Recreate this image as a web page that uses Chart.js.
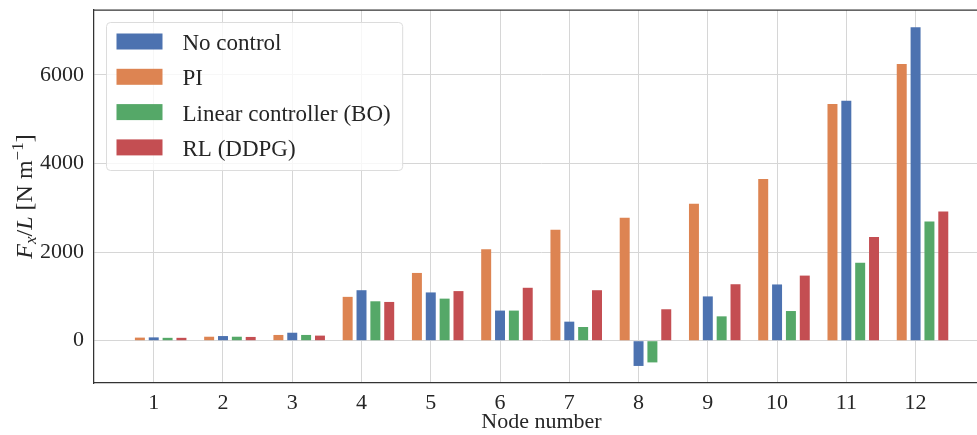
<!DOCTYPE html>
<html>
<head>
<meta charset="utf-8">
<script src="https://cdn.jsdelivr.net/npm/chart.js@4"></script>
<style>
  html, body { margin: 0; padding: 0; background: #fff; overflow: hidden; }
  #wrap { width: 977px; height: 435px; position: relative; overflow: hidden; }
  /* the original figure is cropped a little on the right, so the plot is wider than the window */
  #inner { width: 989px; height: 435px; position: relative; }
</style>
</head>
<body>
<div id="wrap"><div id="inner"><canvas id="chart"></canvas></div></div>
<script>
const nodes = [1, 2, 3, 4, 5, 6, 7, 8, 9, 10, 11, 12]
const noControl = [75, 105, 180, 1140, 1090, 680, 430, -570, 1000, 1270, 5420, 7080]
const pi = [70, 90, 130, 990, 1530, 2065, 2505, 2775, 3095, 3650, 5345, 6250]
const linearBO = [65, 90, 130, 890, 950, 680, 310, -490, 550, 670, 1760, 2690]
const rlDDPG = [65, 85, 115, 875, 1120, 1195, 1140, 710, 1275, 1470, 2340, 2920]
const yTicks = [0, 2000, 4000, 6000]

const serif = '"Liberation Serif", "DejaVu Serif", serif'
const textColor = '#262626'
const gridColor = '#d6d6d6'
const spineColor = '#333333'

// matplotlib puts the 4-bar group off-centre: PI at -0.2, no control on the tick, RL at +0.4
const groupShift = 0.1
const series = values => nodes.map((n, i) => ({ x: n + groupShift, y: values[i] }))

const frameTop = {
  id: 'frameTop',
  afterDatasetsDraw (chart) {
    const { ctx, chartArea: a } = chart
    ctx.save()
    ctx.strokeStyle = spineColor
    ctx.lineWidth = 1.25
    ctx.beginPath()
    ctx.moveTo(a.left, a.top)
    ctx.lineTo(a.right, a.top)
    ctx.stroke()
    ctx.restore()
  }
}

const boxLegend = {
  id: 'boxLegend',
  afterDraw (chart) {
    const { ctx, chartArea: a } = chart
    const datasets = chart.data.datasets
    ctx.save()
    ctx.font = `23px ${serif}`
    const textW = Math.max(...datasets.map(d => ctx.measureText(d.label).width))
    const x = a.left + 12.5
    const y = a.top + 12.5
    const w = 76 + textW + 12
    const h = 148
    ctx.beginPath()
    ctx.roundRect(x, y, w, h, 4)
    ctx.fillStyle = 'rgba(255,255,255,0.8)'
    ctx.fill()
    ctx.strokeStyle = '#dcdcdc'
    ctx.lineWidth = 1
    ctx.stroke()
    ctx.textBaseline = 'alphabetic'
    datasets.forEach((d, i) => {
      const cy = y + 19 + i * 35.3
      ctx.fillStyle = d.backgroundColor
      ctx.fillRect(x + 10, cy - 8, 46, 16)
      ctx.fillStyle = textColor
      ctx.fillText(d.label, x + 76, cy + 8.5)
    })
    ctx.restore()
  }
}

const yTitle = {
  id: 'yTitle',
  afterDraw (chart) {
    const { ctx, chartArea: a } = chart
    const parts = [
      { t: 'F', style: 'italic ', size: 24, dy: 0 },
      { t: 'x', style: 'italic ', size: 17, dy: 4 },
      { t: '/', style: '', size: 24, dy: 0 },
      { t: 'L', style: 'italic ', size: 24, dy: 0 },
      { t: ' [N m', style: '', size: 24, dy: 0 },
      { t: '\u22121', style: '', size: 17, dy: -9 },
      { t: ']', style: '', size: 24, dy: 0 }
    ]
    ctx.save()
    let total = 0
    parts.forEach(p => {
      ctx.font = `${p.style}${p.size}px ${serif}`
      p.w = ctx.measureText(p.t).width
      total += p.w
    })
    ctx.translate(32, (a.top + a.bottom) / 2)
    ctx.rotate(-Math.PI / 2)
    ctx.fillStyle = textColor
    ctx.textBaseline = 'alphabetic'
    let cx = -total / 2
    parts.forEach(p => {
      ctx.font = `${p.style}${p.size}px ${serif}`
      ctx.fillText(p.t, cx, p.dy)
      cx += p.w
    })
    ctx.restore()
  }
}

const tickFont = { family: serif, size: 22 }

new Chart(document.getElementById('chart'), {
  type: 'bar',
  data: {
    datasets: [
      { label: 'No control', data: series(noControl), backgroundColor: '#4C72B0', order: 1 },
      { label: 'PI', data: series(pi), backgroundColor: '#DD8452', order: 0 },
      { label: 'Linear controller (BO)', data: series(linearBO), backgroundColor: '#55A868', order: 2 },
      { label: 'RL (DDPG)', data: series(rlDDPG), backgroundColor: '#C44E52', order: 3 }
    ]
  },
  options: {
    responsive: true,
    maintainAspectRatio: false,
    animation: false,
    categoryPercentage: 0.8,
    barPercentage: 0.72,
    layout: { padding: { top: 10, right: 0, bottom: 0, left: 0 } },
    scales: {
      x: {
        type: 'linear',
        min: 0.1375,
        max: 13.06,
        offset: false,
        afterBuildTicks: s => { s.ticks = nodes.map(v => ({ value: v })) },
        afterFit: s => { s.height = 52; s.paddingLeft = 0; s.paddingRight = 0 },
        grid: { color: gridColor, drawTicks: false, offset: false },
        border: { color: spineColor, width: 1.25 },
        ticks: {
          color: textColor,
          font: tickFont,
          padding: 7,
          maxRotation: 0,
          autoSkip: false,
          callback: v => String(v)
        },
        title: {
          display: true,
          text: 'Node number',
          color: textColor,
          font: tickFont,
          padding: { top: 0, bottom: 0 }
        }
      },
      y: {
        min: -955,
        max: 7467,
        afterBuildTicks: s => { s.ticks = yTicks.map(v => ({ value: v })) },
        afterFit: s => { s.width = 94; s.paddingTop = 0; s.paddingBottom = 0 },
        grid: { color: gridColor, drawTicks: false },
        border: { color: spineColor, width: 1.25 },
        ticks: {
          color: textColor,
          font: tickFont,
          padding: 10,
          callback: v => String(v)
        }
      }
    },
    plugins: {
      legend: { display: false },
      tooltip: { enabled: false }
    }
  },
  plugins: [frameTop, boxLegend, yTitle]
})
</script>
</body>
</html>
